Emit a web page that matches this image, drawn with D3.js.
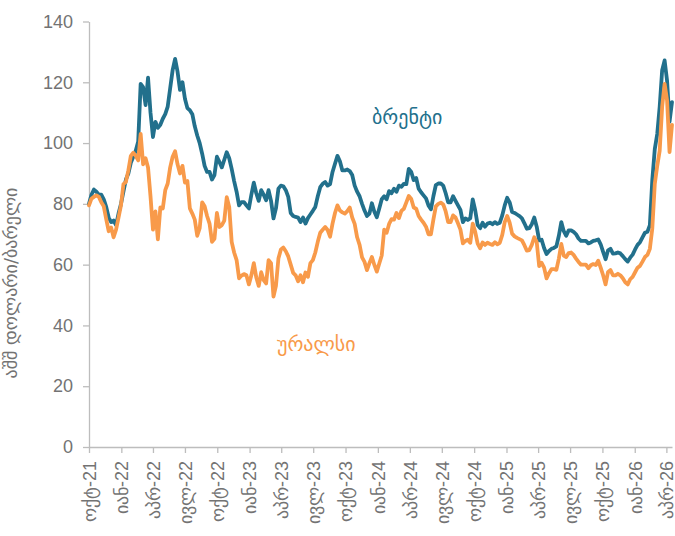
<!DOCTYPE html>
<html lang="ka">
<head>
<meta charset="UTF-8">
<title>ბრენტი და ურალსი</title>
<script src="https://cdn.jsdelivr.net/npm/d3@7"></script>
<style>
  body { margin: 0; background: #fff; }
  svg { display: block; font-family: 'DejaVu Sans', sans-serif; }
  .axis path, .axis line { stroke: #bdbdbd; stroke-width: 1.3; }
  .axis text { fill: #737373; font-size: 18px; }
  .series { fill: none; stroke-width: 3.8; stroke-linejoin: round; stroke-linecap: round; }
</style>
</head>
<body>
<svg id="chart" width="675" height="536"></svg>
<script>
// weekly prices, first week starts 1 Oct 2021
const firstWeek = "2021-10-01";

const brent = [
  80, 83, 84.7, 84, 83, 83, 81.5, 79, 75.5, 74,
  74.5, 73, 76.8, 80, 84, 88, 90, 93.5, 95.5, 97.5,
  100.5, 119.5, 118.4, 112.5, 121.5, 110, 102, 107, 105, 106,
  108, 109.5, 112, 118, 124, 127.7, 123.5, 117.5, 120, 114.6,
  111.5, 110.8, 109.5, 105.5, 102.5, 100, 96.5, 92.5, 90.5, 90.5,
  88, 89.5, 95.5, 93.8, 92, 94.5, 97, 95, 91.5, 87.5,
  84, 79.5, 80.6, 80.6, 79.5, 78.5, 83, 87, 83.5, 81,
  84.5, 83, 81.2, 84.5, 81, 75.2, 78.5, 85, 86, 85.8,
  84.5, 82.3, 77, 76, 75.7, 75.5, 74, 75.5, 73.5, 75.3,
  76.5, 77.7, 79, 82.5, 85.5, 86.6, 87.2, 86, 86.5, 90.5,
  93.2, 95.8, 94, 91, 91, 91.3, 90.8, 89.5, 86, 84,
  82.5, 80, 77.8, 76, 76.8, 80.2, 77.4, 75.6, 78.5, 81.5,
  82.5, 81.5, 84.2, 83.5, 85, 84, 86, 85.6, 86.6, 86.5,
  91.5, 90.5, 87.8, 88.5, 85, 83.8, 82.8, 81.8, 79.5, 78.2,
  82.5, 86.2, 86.7, 86.7, 86, 83.5, 80.5, 80.5, 82.5, 81,
  79.5, 78, 74, 75.2, 74.7, 75.3, 81.5, 77.9, 73, 72,
  73.8, 72.5, 73.5, 73.8, 73.3, 74, 73.4, 73.8, 76.2, 79.5,
  82, 80.5, 77.3, 77, 76.5, 76, 75.2, 73.6, 71.8, 72,
  73.3, 75.5, 72.5, 68, 68.2, 65.5, 63.5, 64.5, 65.2, 65.5,
  66, 69.5, 74, 71, 69.5, 71.3, 71.3, 70.8, 70, 68.6,
  67.8, 67.8, 67.8, 67, 67.3, 67.8, 68, 68.3, 66.7, 64.2,
  61.8, 64.7, 65.2, 63.6, 63.7, 64, 63.7, 62.8, 61.8, 61,
  62.3, 63.3, 65, 66.5, 67.4, 69, 70.5, 70.8, 73, 88,
  98, 103, 112, 124, 127.2, 120.5, 107, 113.5
];

const urals = [
  79.5, 81.7, 82.3, 82.8, 82.3, 80.5, 79.2, 75, 71, 72.2,
  69, 71.5, 75.5, 79.5, 86.5, 87.2, 91, 95.8, 96.8, 95.8,
  94.3, 103, 93, 95, 92, 82.5, 71.5, 77.5, 68.3, 78.8,
  78.5, 84.5, 86.7, 92, 95.5, 97.3, 93, 90, 92.5, 87,
  87.5, 78.5, 76.8, 74.8, 69.5, 72, 80.5, 79.2, 76, 73.5,
  67.5, 68.5, 77, 72.4, 73, 74.5, 82.2, 79, 67.5, 64,
  61.5, 55.5, 56.4, 56.9, 56.5, 53.5, 56.5, 60.5, 55.8, 53,
  57.5, 54.9, 53.8, 61.5, 60.5, 49.5, 53, 62, 65, 65.6,
  64.4, 62.7, 60, 57.3, 56.5, 54.5, 56.5, 54.2, 57.4, 56,
  60.5, 61.5, 64, 67.5, 70.5, 71.5, 72.4, 71.4, 69.2, 73.5,
  77, 79.5, 77.8, 77.2, 76.8, 77.6, 78.8, 75.5, 73.4, 69,
  66.5, 62.4, 60.9, 58.2, 60.5, 62.5, 59.9, 57.7, 60.4, 63,
  71.5, 70.5, 73.4, 75, 74.8, 77, 75.3, 77.7, 78.4, 80.5,
  82.6, 81.6, 78.8, 78.4, 76, 74.8, 73.8, 72.5, 70, 70,
  74.8, 79.2, 80, 80.4, 79.8, 77.5, 74, 74, 76.2, 75.5,
  73.6, 71.5, 67, 67.8, 68.2, 67.2, 73.5, 70.8, 66.9, 65.4,
  67.3, 66.5, 67.2, 66.8, 66.5, 67.4, 66.7, 67.2, 69.8, 74,
  76, 73.8, 70.2, 69.3, 68.8, 68.4, 68, 66.4, 64.6, 64.8,
  66.5, 69, 67.5, 59.5, 60.6, 59, 55.5, 57.2, 58.5, 58.5,
  58.3, 62, 66.8, 63, 62.5, 63.8, 64, 63.2, 62, 60.9,
  60, 60, 60, 58.8, 59.8, 60.2, 59.9, 61.3, 59, 56.5,
  53.5, 57.6, 58.2, 56.5, 56.5, 57, 56.5, 55.5, 54.2, 53.5,
  55.2, 56, 57.5, 59, 59.6, 61, 62.5, 63.2, 65.2, 72,
  86.5, 92.5, 97.5, 112, 119.5, 114, 97, 106
];

const tickDates = [
  "2021-10-01", "2022-01-01", "2022-04-01", "2022-07-01", "2022-10-01",
  "2023-01-01", "2023-04-01", "2023-07-01", "2023-10-01", "2024-01-01",
  "2024-04-01", "2024-07-01", "2024-10-01", "2025-01-01", "2025-04-01",
  "2025-07-01", "2025-10-01", "2026-01-01", "2026-04-01"
];
const tickLabels = [
  "ოქტ-21", "იან-22", "აპრ-22", "ივლ-22", "ოქტ-22",
  "იან-23", "აპრ-23", "ივლ-23", "ოქტ-23", "იან-24",
  "აპრ-24", "ივლ-24", "ოქტ-24", "იან-25", "აპრ-25",
  "ივლ-25", "ოქტ-25", "იან-26", "აპრ-26"
];
const yTicks = [0, 20, 40, 60, 80, 100, 120, 140];

const colors = { brent: "#22708c", urals: "#f89a4a" };

const svg = d3.select("#chart");
const parse = d3.utcParse("%Y-%m-%d");
const t0 = parse(firstWeek);
const dates = brent.map((d, i) => d3.utcDay.offset(t0, 7 * i));

const x = d3.scaleUtc()
  .domain([t0, dates[dates.length - 1]])
  .range([89, 672]);
const y = d3.scaleLinear().domain([0, 140]).range([447, 21.5]);

// axes
const yAxis = svg.append("g")
  .attr("class", "axis")
  .attr("transform", "translate(89,0)")
  .call(d3.axisLeft(y).tickValues(yTicks).tickSize(6).tickPadding(10).tickSizeOuter(0));

const xAxis = svg.append("g")
  .attr("class", "axis")
  .attr("transform", "translate(0,447)")
  .call(d3.axisBottom(x)
    .tickValues(tickDates.map(parse))
    .tickFormat((d, i) => tickLabels[i])
    .tickSize(6)
    .tickSizeOuter(0));

xAxis.selectAll("text")
  .attr("transform", "rotate(-90)")
  .attr("x", -14)
  .attr("y", 0)
  .attr("dy", "0.35em")
  .style("text-anchor", "end");

// y title
svg.append("text")
  .attr("transform", "translate(17,283) rotate(-90)")
  .attr("text-anchor", "middle")
  .attr("fill", "#737373")
  .style("font-size", "18px")
  .text("აშშ დოლარი/ბარელი");

// lines
const line = vals => d3.line()
  .x((d, i) => x(dates[i]))
  .y(d => y(d))(vals);

svg.append("path")
  .attr("class", "series")
  .attr("stroke", colors.brent)
  .attr("d", line(brent));

svg.append("path")
  .attr("class", "series")
  .attr("stroke", colors.urals)
  .attr("d", line(urals));

// series labels
svg.append("text")
  .attr("x", 372).attr("y", 124)
  .attr("fill", colors.brent)
  .style("font-size", "20px")
  .text("ბრენტი");

svg.append("text")
  .attr("x", 277).attr("y", 351)
  .attr("fill", colors.urals)
  .style("font-size", "20px")
  .text("ურალსი");
</script>
</body>
</html>
